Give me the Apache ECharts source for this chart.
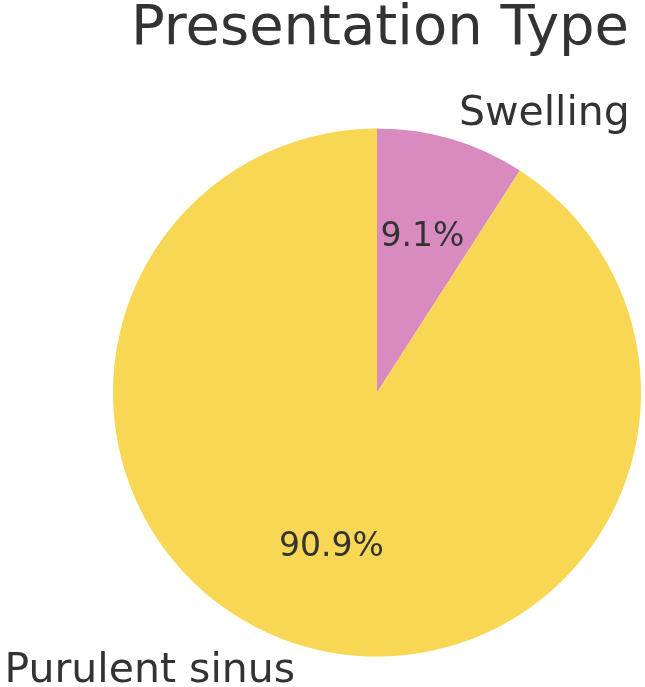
<!DOCTYPE HTML>
<html>
<head>
    <title>Presentation Type</title>
    <script src="https://cdn.jsdelivr.net/npm/echarts@6/dist/echarts.min.js"></script>
    <style>
        html, body { margin: 0; padding: 0; background: #fff; }
        #main { width: 645px; height: 687px; }
    </style>
</head>
<body>
<div id="main"></div>
<script type="text/javascript">

    var categories = ['Swelling', 'Purulent sinus'];
    var values = [9.1, 90.9];
    var pctLabels = ['9.1%', '90.9%'];
    var colors = ['#D98BBF', '#F7D754'];

    var R = 264;
    var center = [377, 392.6];

    var pieData = [];
    var pctData = [];
    for (var i = 0; i < categories.length; i++) {
        pieData.push({ name: categories[i], value: values[i], itemStyle: { color: colors[i] } });
        pctData.push({ name: pctLabels[i], value: values[i] });
    }

    var chart = echarts.init(document.getElementById('main'));

    var option = {
        backgroundColor: '#ffffff',
        animation: false,
        title: {
            text: 'Presentation Type',
            left: 375,
            textAlign: 'center',
            top: -31,
            textStyle: {
                fontFamily: 'DejaVu Sans',
                fontSize: 56,
                fontWeight: 'normal',
                color: '#333333'
            }
        },
        series: [
            {
                // slices + category names at 1.1 R
                type: 'pie',
                center: center,
                radius: [0, R],
                startAngle: 90,
                clockwise: true,
                avoidLabelOverlap: false,
                silent: true,
                data: pieData,
                itemStyle: { borderWidth: 0 },
                label: {
                    show: true,
                    position: 'outside',
                    formatter: '{b}',
                    distanceToLabelLine: 0,
                    fontFamily: 'DejaVu Sans',
                    fontSize: 41,
                    color: '#333333'
                },
                labelLine: { show: false, length: R * 0.1, length2: 0 }
            },
            {
                // percentage labels at 0.6 R
                type: 'pie',
                center: center,
                radius: [R * 0.2, R],
                startAngle: 90,
                clockwise: true,
                silent: true,
                data: pctData,
                itemStyle: { color: 'rgba(0,0,0,0)', borderWidth: 0 },
                label: {
                    show: true,
                    position: 'inside',
                    formatter: '{b}',
                    fontFamily: 'DejaVu Sans',
                    fontSize: 33,
                    color: '#333333'
                },
                labelLine: { show: false }
            }
        ]
    };

    chart.setOption(option);

</script>
</body>
</html>
